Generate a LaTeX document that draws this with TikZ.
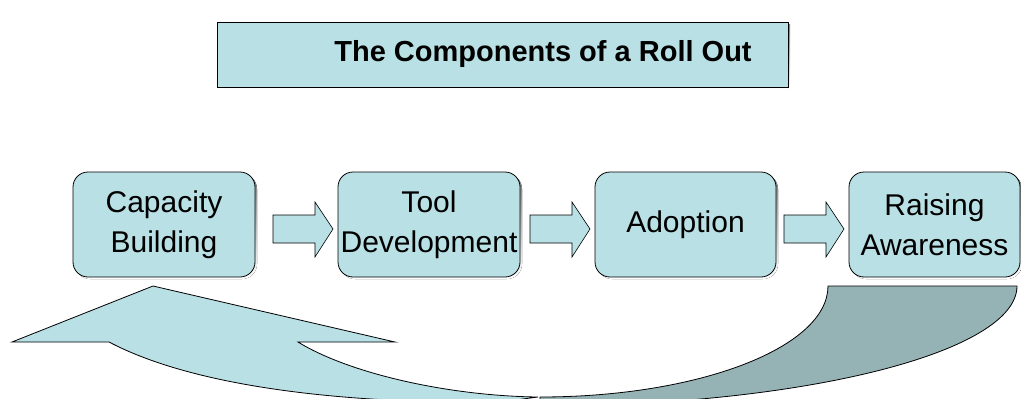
\documentclass[tikz,border=0pt]{standalone}
\usepackage{fontspec}
\setmainfont{Liberation Sans}
\usetikzlibrary{calc}
\definecolor{lblue}{RGB}{185,224,228}
\definecolor{dblue}{RGB}{149,178,181}
\definecolor{shade}{RGB}{70,80,82}
\begin{document}
\begin{tikzpicture}[x=1pt,y=-1pt,
  stagebox/.style={draw=black, line width=0.8pt, fill=lblue, rounded corners=15pt,
    minimum height=105pt, align=center, inner sep=0pt,
    font=\fontsize{30}{40}\selectfont},
  titlebox/.style={draw=black, line width=0.8pt, fill=lblue, inner sep=0pt,
    font=\bfseries\fontsize{29}{34}\selectfont},
  blockarrow/.style={draw=black, line width=0.6pt, fill=lblue},
  frontband/.style={draw=black, line width=0.8pt, fill=lblue},
  backband/.style={draw=black, line width=0.8pt, fill=dblue}]
\useasboundingbox (0,0) rectangle (1021,399);
\clip (0,0) rectangle (1021,399);

% title
\fill[shade] (219,24) rectangle (790,89);
\node[titlebox, minimum width=571pt, minimum height=65pt] (title) at (502.5,54.5) {};
\node[font=\bfseries\fontsize{29}{34}\selectfont] (titletext) at (543,54.5) {The Components of a Roll Out};

% stage boxes with shadows
\foreach \cx/\w in {164/182, 429/182, 685.5/181, 934.5/171}{
  \fill[shade, rounded corners=15pt] ($(\cx,224.5)+(-\w/2+2,-52.5+2)$) rectangle ($(\cx,224.5)+(\w/2+2,52.5+2)$);
}
\node[stagebox, minimum width=182pt] (cb) at (164,224.5) {Capacity\\Building};
\node[stagebox, minimum width=182pt] (td) at (429,224.5) {Tool\\Development};
\node[stagebox, minimum width=181pt] (ad) at (685.5,224.5) {Adoption};
\node[stagebox, minimum width=171pt] (ra) at (934.5,224.5) {Raising\\Awareness};

% block arrows between boxes
\foreach \x in {273, 530, 784}{
  \draw[blockarrow] (\x,215) -- (\x+42,215) -- (\x+42,202) -- (\x+60,229)
    -- (\x+42,257) -- (\x+42,243) -- (\x,243) -- cycle;
}

% curved return arrow: back (dark) band
\draw[backband] (828,286) -- (1017,286)
  arc[start angle=0, end angle=-90, x radius=477pt, y radius=120pt]
  -- (540,397)
  arc[start angle=-90, end angle=0, x radius=288pt, y radius=111pt] -- cycle;
% front (light) band with arrowhead
\draw[frontband] (153,286) -- (395,342) -- (298,342)
  .. controls (350,374) and (450,396) .. (538,397)
  -- (500,402)
  .. controls (360,404) and (200,390) .. (109,342)
  -- (12,342) -- cycle;
\end{tikzpicture}
\end{document}
